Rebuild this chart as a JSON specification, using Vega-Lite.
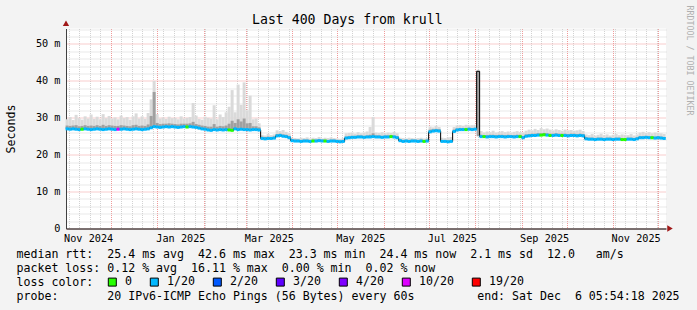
{
  "$schema": "https://vega.github.io/schema/vega-lite/v6.json",
  "width": 600,
  "height": 200,
  "autosize": {"type": "none"},
  "padding": {"left": 66, "top": 28.5, "right": 31, "bottom": 81.5},
  "background": "#f3f3f3",
  "title": {"text": "Last 400 Days from krull", "font": "DejaVu Sans Mono", "fontSize": 13.2, "fontWeight": "normal", "color": "#000000", "anchor": "middle", "frame": "group", "dx": -18.7, "baseline": "alphabetic", "offset": -32.2},
  "config": {
    "view": {"stroke": null, "fill": "#ffffff"},
    "axis": {"labelFont": "DejaVu Sans Mono", "labelColor": "#000000", "titleFont": "DejaVu Sans Mono", "titleFontWeight": "normal", "titleColor": "#000000", "ticks": false, "tickSize": 0, "domain": false, "gridOpacity": 1}
  },
  "data": {"values": [
    {"d":"2024-11-02","m":27.0,"h":29.6,"k":27.9,"l":"1/20"},
    {"d":"2024-11-04","m":26.9,"h":30.2,"k":27.8,"l":"1/20"},
    {"d":"2024-11-06","m":27.0,"h":29.4,"k":27.9,"l":"1/20"},
    {"d":"2024-11-08","m":26.9,"h":30.8,"k":28.0,"l":"1/20"},
    {"d":"2024-11-10","m":26.8,"h":29.9,"k":27.7,"l":"1/20"},
    {"d":"2024-11-12","m":26.9,"h":29.5,"k":27.8,"l":"0"},
    {"d":"2024-11-14","m":27.0,"h":30.4,"k":28.0,"l":"1/20"},
    {"d":"2024-11-16","m":26.9,"h":29.8,"k":27.8,"l":"1/20"},
    {"d":"2024-11-18","m":26.8,"h":30.9,"k":27.9,"l":"1/20"},
    {"d":"2024-11-20","m":26.9,"h":29.7,"k":27.8,"l":"1/20"},
    {"d":"2024-11-22","m":27.0,"h":30.3,"k":28.0,"l":"1/20"},
    {"d":"2024-11-24","m":26.9,"h":29.6,"k":27.8,"l":"1/20"},
    {"d":"2024-11-26","m":26.8,"h":31.0,"k":28.1,"l":"1/20"},
    {"d":"2024-11-28","m":26.9,"h":29.9,"k":27.8,"l":"1/20"},
    {"d":"2024-11-30","m":27.0,"h":30.5,"k":28.0,"l":"1/20"},
    {"d":"2024-12-02","m":26.9,"h":29.8,"k":27.9,"l":"1/20"},
    {"d":"2024-12-04","m":26.8,"h":30.1,"k":27.8,"l":"1/20"},
    {"d":"2024-12-06","m":26.9,"h":29.6,"k":27.8,"l":"10/20"},
    {"d":"2024-12-08","m":26.9,"h":30.6,"k":28.0,"l":"1/20"},
    {"d":"2024-12-10","m":27.0,"h":29.9,"k":27.9,"l":"1/20"},
    {"d":"2024-12-12","m":26.9,"h":30.2,"k":27.8,"l":"1/20"},
    {"d":"2024-12-14","m":26.8,"h":29.5,"k":27.7,"l":"1/20"},
    {"d":"2024-12-16","m":26.9,"h":30.4,"k":28.0,"l":"1/20"},
    {"d":"2024-12-18","m":27.0,"h":31.2,"k":28.1,"l":"1/20"},
    {"d":"2024-12-20","m":26.9,"h":29.8,"k":27.8,"l":"1/20"},
    {"d":"2024-12-22","m":26.8,"h":30.4,"k":27.9,"l":"1/20"},
    {"d":"2024-12-24","m":26.9,"h":29.7,"k":27.8,"l":"1/20"},
    {"d":"2024-12-26","m":27.0,"h":31.3,"k":28.2,"l":"1/20"},
    {"d":"2024-12-28","m":27.3,"h":35.0,"k":30.5,"l":"1/20"},
    {"d":"2024-12-30","m":27.6,"h":40.0,"k":37.0,"l":"1/20"},
    {"d":"2025-01-01","m":27.5,"h":31.0,"k":28.6,"l":"1/20"},
    {"d":"2025-01-03","m":27.4,"h":29.8,"k":28.3,"l":"1/20"},
    {"d":"2025-01-05","m":27.5,"h":30.1,"k":28.4,"l":"1/20"},
    {"d":"2025-01-07","m":27.6,"h":29.7,"k":28.4,"l":"1/20"},
    {"d":"2025-01-09","m":27.5,"h":30.3,"k":28.5,"l":"1/20"},
    {"d":"2025-01-11","m":27.6,"h":29.9,"k":28.4,"l":"1/20"},
    {"d":"2025-01-13","m":27.5,"h":30.0,"k":28.3,"l":"1/20"},
    {"d":"2025-01-15","m":27.4,"h":29.6,"k":28.2,"l":"1/20"},
    {"d":"2025-01-17","m":27.5,"h":30.4,"k":28.4,"l":"1/20"},
    {"d":"2025-01-19","m":27.6,"h":29.8,"k":28.4,"l":"1/20"},
    {"d":"2025-01-21","m":27.5,"h":30.0,"k":28.4,"l":"0"},
    {"d":"2025-01-23","m":27.6,"h":30.2,"k":28.5,"l":"1/20"},
    {"d":"2025-01-25","m":27.5,"h":34.0,"k":28.9,"l":"1/20"},
    {"d":"2025-01-27","m":27.4,"h":30.6,"k":28.3,"l":"1/20"},
    {"d":"2025-01-29","m":27.2,"h":29.7,"k":28.1,"l":"1/20"},
    {"d":"2025-01-31","m":27.0,"h":29.5,"k":27.9,"l":"1/20"},
    {"d":"2025-02-02","m":26.9,"h":30.3,"k":27.8,"l":"1/20"},
    {"d":"2025-02-04","m":26.7,"h":30.0,"k":27.6,"l":"1/20"},
    {"d":"2025-02-06","m":26.6,"h":29.8,"k":27.6,"l":"1/20"},
    {"d":"2025-02-08","m":26.8,"h":33.4,"k":28.3,"l":"1/20"},
    {"d":"2025-02-10","m":26.7,"h":29.6,"k":27.6,"l":"1/20"},
    {"d":"2025-02-12","m":26.8,"h":30.9,"k":27.8,"l":"1/20"},
    {"d":"2025-02-14","m":26.7,"h":30.2,"k":27.7,"l":"1/20"},
    {"d":"2025-02-16","m":26.8,"h":31.5,"k":27.9,"l":"1/20"},
    {"d":"2025-02-18","m":26.7,"h":33.0,"k":28.4,"l":"0"},
    {"d":"2025-02-20","m":26.6,"h":37.5,"k":29.2,"l":"0"},
    {"d":"2025-02-22","m":27.0,"h":31.5,"k":28.6,"l":"1/20"},
    {"d":"2025-02-24","m":26.8,"h":39.0,"k":29.6,"l":"1/20"},
    {"d":"2025-02-26","m":26.9,"h":33.5,"k":29.0,"l":"1/20"},
    {"d":"2025-02-28","m":26.8,"h":39.6,"k":29.8,"l":"1/20"},
    {"d":"2025-03-02","m":26.8,"h":32.0,"k":28.5,"l":"1/20"},
    {"d":"2025-03-04","m":26.7,"h":36.0,"k":28.6,"l":"1/20"},
    {"d":"2025-03-06","m":26.8,"h":29.6,"k":27.7,"l":"1/20"},
    {"d":"2025-03-08","m":26.8,"h":29.8,"k":27.7,"l":"1/20"},
    {"d":"2025-03-10","m":26.7,"h":28.5,"k":27.4,"l":"1/20"},
    {"d":"2025-03-12","m":24.4,"h":25.4,"k":24.9,"l":"1/20"},
    {"d":"2025-03-14","m":24.3,"h":25.2,"k":24.8,"l":"1/20"},
    {"d":"2025-03-16","m":24.4,"h":25.6,"k":24.9,"l":"1/20"},
    {"d":"2025-03-18","m":24.4,"h":25.3,"k":24.8,"l":"1/20"},
    {"d":"2025-03-20","m":24.5,"h":25.5,"k":24.9,"l":"1/20"},
    {"d":"2025-03-22","m":25.1,"h":26.6,"k":25.6,"l":"1/20"},
    {"d":"2025-03-24","m":25.2,"h":26.4,"k":25.7,"l":"1/20"},
    {"d":"2025-03-26","m":25.0,"h":26.7,"k":25.5,"l":"1/20"},
    {"d":"2025-03-28","m":24.9,"h":26.2,"k":25.4,"l":"1/20"},
    {"d":"2025-03-30","m":24.6,"h":25.8,"k":25.1,"l":"1/20"},
    {"d":"2025-04-01","m":23.8,"h":24.6,"k":24.2,"l":"1/20"},
    {"d":"2025-04-03","m":23.7,"h":24.5,"k":24.1,"l":"1/20"},
    {"d":"2025-04-05","m":23.7,"h":24.4,"k":24.1,"l":"1/20"},
    {"d":"2025-04-07","m":23.6,"h":24.6,"k":24.0,"l":"1/20"},
    {"d":"2025-04-09","m":23.7,"h":24.5,"k":24.1,"l":"1/20"},
    {"d":"2025-04-11","m":23.7,"h":24.7,"k":24.1,"l":"1/20"},
    {"d":"2025-04-13","m":23.6,"h":24.4,"k":24.0,"l":"1/20"},
    {"d":"2025-04-15","m":23.7,"h":24.6,"k":24.1,"l":"0"},
    {"d":"2025-04-17","m":23.7,"h":24.5,"k":24.1,"l":"1/20"},
    {"d":"2025-04-19","m":23.8,"h":24.8,"k":24.2,"l":"1/20"},
    {"d":"2025-04-21","m":23.7,"h":24.4,"k":24.1,"l":"1/20"},
    {"d":"2025-04-23","m":23.7,"h":24.6,"k":24.1,"l":"0"},
    {"d":"2025-04-25","m":23.6,"h":24.5,"k":24.0,"l":"1/20"},
    {"d":"2025-04-27","m":23.7,"h":24.7,"k":24.1,"l":"1/20"},
    {"d":"2025-04-29","m":23.7,"h":24.5,"k":24.1,"l":"1/20"},
    {"d":"2025-05-01","m":23.6,"h":24.4,"k":24.0,"l":"1/20"},
    {"d":"2025-05-03","m":23.5,"h":24.3,"k":23.9,"l":"1/20"},
    {"d":"2025-05-05","m":23.6,"h":24.5,"k":24.0,"l":"1/20"},
    {"d":"2025-05-07","m":24.5,"h":25.8,"k":24.9,"l":"1/20"},
    {"d":"2025-05-09","m":24.6,"h":25.9,"k":25.0,"l":"1/20"},
    {"d":"2025-05-11","m":24.7,"h":26.0,"k":25.1,"l":"1/20"},
    {"d":"2025-05-13","m":24.7,"h":25.7,"k":25.1,"l":"1/20"},
    {"d":"2025-05-15","m":24.8,"h":26.1,"k":25.2,"l":"1/20"},
    {"d":"2025-05-17","m":24.8,"h":25.8,"k":25.2,"l":"1/20"},
    {"d":"2025-05-19","m":24.7,"h":26.0,"k":25.1,"l":"1/20"},
    {"d":"2025-05-21","m":24.8,"h":26.3,"k":25.2,"l":"1/20"},
    {"d":"2025-05-23","m":24.8,"h":27.5,"k":25.4,"l":"1/20"},
    {"d":"2025-05-25","m":24.9,"h":30.2,"k":25.8,"l":"1/20"},
    {"d":"2025-05-27","m":24.8,"h":26.0,"k":25.2,"l":"1/20"},
    {"d":"2025-05-29","m":24.8,"h":25.9,"k":25.2,"l":"1/20"},
    {"d":"2025-05-31","m":24.7,"h":26.1,"k":25.1,"l":"1/20"},
    {"d":"2025-06-02","m":24.8,"h":25.8,"k":25.2,"l":"1/20"},
    {"d":"2025-06-04","m":24.8,"h":26.0,"k":25.2,"l":"1/20"},
    {"d":"2025-06-06","m":24.9,"h":25.9,"k":25.3,"l":"0"},
    {"d":"2025-06-08","m":24.8,"h":26.2,"k":25.2,"l":"1/20"},
    {"d":"2025-06-10","m":24.6,"h":25.8,"k":25.0,"l":"1/20"},
    {"d":"2025-06-12","m":23.8,"h":24.6,"k":24.2,"l":"1/20"},
    {"d":"2025-06-14","m":23.6,"h":24.5,"k":24.0,"l":"1/20"},
    {"d":"2025-06-16","m":23.7,"h":24.4,"k":24.1,"l":"1/20"},
    {"d":"2025-06-18","m":23.6,"h":24.6,"k":24.0,"l":"1/20"},
    {"d":"2025-06-20","m":23.7,"h":24.5,"k":24.1,"l":"1/20"},
    {"d":"2025-06-22","m":23.7,"h":24.4,"k":24.1,"l":"1/20"},
    {"d":"2025-06-24","m":23.6,"h":24.5,"k":24.0,"l":"1/20"},
    {"d":"2025-06-26","m":23.7,"h":24.6,"k":24.1,"l":"1/20"},
    {"d":"2025-06-28","m":23.6,"h":24.4,"k":24.0,"l":"0"},
    {"d":"2025-06-30","m":23.7,"h":24.5,"k":24.1,"l":"1/20"},
    {"d":"2025-07-02","m":26.2,"h":27.6,"k":26.8,"l":"1/20"},
    {"d":"2025-07-04","m":26.4,"h":27.4,"k":26.9,"l":"1/20"},
    {"d":"2025-07-06","m":26.5,"h":27.8,"k":27.0,"l":"1/20"},
    {"d":"2025-07-08","m":26.4,"h":27.5,"k":26.9,"l":"1/20"},
    {"d":"2025-07-10","m":23.6,"h":24.6,"k":24.0,"l":"1/20"},
    {"d":"2025-07-12","m":23.6,"h":24.5,"k":24.0,"l":"1/20"},
    {"d":"2025-07-14","m":23.5,"h":24.7,"k":23.9,"l":"1/20"},
    {"d":"2025-07-16","m":23.6,"h":24.8,"k":24.0,"l":"1/20"},
    {"d":"2025-07-18","m":26.3,"h":27.5,"k":26.8,"l":"1/20"},
    {"d":"2025-07-20","m":26.7,"h":27.9,"k":27.1,"l":"1/20"},
    {"d":"2025-07-22","m":26.8,"h":28.0,"k":27.2,"l":"1/20"},
    {"d":"2025-07-24","m":26.8,"h":27.8,"k":27.2,"l":"1/20"},
    {"d":"2025-07-26","m":26.8,"h":28.1,"k":27.2,"l":"0"},
    {"d":"2025-07-28","m":26.9,"h":27.9,"k":27.3,"l":"1/20"},
    {"d":"2025-07-30","m":26.8,"h":28.0,"k":27.2,"l":"1/20"},
    {"d":"2025-08-01","m":26.9,"h":28.1,"k":27.3,"l":"1/20"},
    {"d":"2025-08-03","m":42.6,"h":43.0,"k":25.0,"l":"1/20"},
    {"d":"2025-08-05","m":24.9,"h":26.4,"k":25.4,"l":"1/20"},
    {"d":"2025-08-07","m":24.9,"h":26.0,"k":25.3,"l":"0"},
    {"d":"2025-08-09","m":24.8,"h":26.3,"k":25.3,"l":"1/20"},
    {"d":"2025-08-11","m":24.9,"h":26.1,"k":25.4,"l":"1/20"},
    {"d":"2025-08-13","m":24.9,"h":26.5,"k":25.4,"l":"1/20"},
    {"d":"2025-08-15","m":24.8,"h":26.0,"k":25.3,"l":"1/20"},
    {"d":"2025-08-17","m":24.9,"h":26.2,"k":25.4,"l":"1/20"},
    {"d":"2025-08-19","m":24.9,"h":26.4,"k":25.4,"l":"1/20"},
    {"d":"2025-08-21","m":24.8,"h":26.1,"k":25.3,"l":"1/20"},
    {"d":"2025-08-23","m":24.9,"h":26.3,"k":25.4,"l":"1/20"},
    {"d":"2025-08-25","m":24.9,"h":26.0,"k":25.3,"l":"1/20"},
    {"d":"2025-08-27","m":24.8,"h":26.2,"k":25.3,"l":"1/20"},
    {"d":"2025-08-29","m":24.9,"h":26.4,"k":25.4,"l":"1/20"},
    {"d":"2025-08-31","m":24.9,"h":26.1,"k":25.4,"l":"0"},
    {"d":"2025-09-02","m":24.6,"h":26.0,"k":25.1,"l":"1/20"},
    {"d":"2025-09-04","m":25.0,"h":26.5,"k":25.5,"l":"1/20"},
    {"d":"2025-09-06","m":25.1,"h":26.8,"k":25.6,"l":"1/20"},
    {"d":"2025-09-08","m":25.2,"h":26.6,"k":25.7,"l":"1/20"},
    {"d":"2025-09-10","m":25.2,"h":27.0,"k":25.7,"l":"1/20"},
    {"d":"2025-09-12","m":25.3,"h":26.7,"k":25.8,"l":"1/20"},
    {"d":"2025-09-14","m":25.3,"h":27.2,"k":25.8,"l":"0"},
    {"d":"2025-09-16","m":25.4,"h":26.9,"k":25.9,"l":"0"},
    {"d":"2025-09-18","m":25.3,"h":27.1,"k":25.8,"l":"1/20"},
    {"d":"2025-09-20","m":25.2,"h":26.8,"k":25.7,"l":"0"},
    {"d":"2025-09-22","m":25.2,"h":26.6,"k":25.7,"l":"1/20"},
    {"d":"2025-09-24","m":25.3,"h":26.9,"k":25.8,"l":"1/20"},
    {"d":"2025-09-26","m":25.2,"h":26.7,"k":25.7,"l":"1/20"},
    {"d":"2025-09-28","m":25.2,"h":26.5,"k":25.7,"l":"0"},
    {"d":"2025-09-30","m":25.2,"h":26.8,"k":25.7,"l":"1/20"},
    {"d":"2025-10-02","m":25.1,"h":26.6,"k":25.6,"l":"1/20"},
    {"d":"2025-10-04","m":25.2,"h":26.7,"k":25.7,"l":"1/20"},
    {"d":"2025-10-06","m":25.2,"h":26.5,"k":25.7,"l":"1/20"},
    {"d":"2025-10-08","m":25.1,"h":26.6,"k":25.6,"l":"1/20"},
    {"d":"2025-10-10","m":25.2,"h":26.8,"k":25.7,"l":"1/20"},
    {"d":"2025-10-12","m":25.1,"h":26.4,"k":25.6,"l":"1/20"},
    {"d":"2025-10-14","m":24.3,"h":25.5,"k":24.7,"l":"1/20"},
    {"d":"2025-10-16","m":24.2,"h":25.3,"k":24.6,"l":"1/20"},
    {"d":"2025-10-18","m":24.2,"h":25.6,"k":24.6,"l":"1/20"},
    {"d":"2025-10-20","m":24.1,"h":25.2,"k":24.5,"l":"1/20"},
    {"d":"2025-10-22","m":24.2,"h":25.4,"k":24.6,"l":"1/20"},
    {"d":"2025-10-24","m":24.2,"h":25.7,"k":24.6,"l":"1/20"},
    {"d":"2025-10-26","m":24.1,"h":25.3,"k":24.5,"l":"1/20"},
    {"d":"2025-10-28","m":24.2,"h":25.5,"k":24.6,"l":"1/20"},
    {"d":"2025-10-30","m":24.2,"h":25.2,"k":24.6,"l":"1/20"},
    {"d":"2025-11-01","m":24.1,"h":25.4,"k":24.5,"l":"1/20"},
    {"d":"2025-11-03","m":24.2,"h":25.6,"k":24.6,"l":"1/20"},
    {"d":"2025-11-05","m":24.2,"h":25.3,"k":24.6,"l":"1/20"},
    {"d":"2025-11-07","m":24.1,"h":25.5,"k":24.5,"l":"0"},
    {"d":"2025-11-09","m":24.1,"h":25.4,"k":24.5,"l":"0"},
    {"d":"2025-11-11","m":24.2,"h":25.3,"k":24.6,"l":"1/20"},
    {"d":"2025-11-13","m":24.2,"h":25.6,"k":24.6,"l":"1/20"},
    {"d":"2025-11-15","m":24.1,"h":25.2,"k":24.5,"l":"1/20"},
    {"d":"2025-11-17","m":24.3,"h":25.5,"k":24.7,"l":"1/20"},
    {"d":"2025-11-19","m":24.6,"h":26.0,"k":25.0,"l":"1/20"},
    {"d":"2025-11-21","m":24.6,"h":26.2,"k":25.0,"l":"1/20"},
    {"d":"2025-11-23","m":24.7,"h":25.9,"k":25.1,"l":"1/20"},
    {"d":"2025-11-25","m":24.6,"h":26.1,"k":25.0,"l":"1/20"},
    {"d":"2025-11-27","m":24.6,"h":25.8,"k":25.0,"l":"0"},
    {"d":"2025-11-29","m":24.5,"h":26.0,"k":24.9,"l":"1/20"},
    {"d":"2025-12-01","m":24.6,"h":25.9,"k":25.0,"l":"1/20"},
    {"d":"2025-12-03","m":24.5,"h":25.8,"k":24.9,"l":"1/20"},
    {"d":"2025-12-05","m":24.4,"h":25.6,"k":24.8,"l":"1/20"}
  ]},
  "resolve": {"axis": {"x": "independent", "y": "independent"}},
  "layer": [
    {
      "mark": {"type": "rule", "strokeWidth": 3, "color": "#dadada"},
      "encoding": {
        "x": {"field": "d", "type": "temporal",
          "scale": {"domain": [{"year": 2024, "month": 11, "date": 1, "hours": 5, "minutes": 54}, {"year": 2025, "month": 12, "date": 6, "hours": 5, "minutes": 54}]},
          "axis": {"orient": "bottom", "tickCount": {"interval": "week", "step": 1}, "grid": true, "gridColor": "#d2d2d2", "gridDash": [1, 1], "labels": false, "title": null}},
        "y": {"field": "m", "type": "quantitative",
          "scale": {"domain": [0, 54.2], "nice": false, "zero": true},
          "axis": {"orient": "right", "values": [2,4,6,8,12,14,16,18,22,24,26,28,32,34,36,38,42,44,46,48,52,54], "grid": true, "gridColor": "#d2d2d2", "gridDash": [1, 1], "labels": false,
            "title": "RRDTOOL / TOBI OETIKER", "titleFontSize": 8.3, "titleColor": "#b0b0b0", "titleAngle": 90, "titleX": 22, "titleY": -23.5, "titleAlign": "left", "titleBaseline": "middle"}},
        "y2": {"field": "h"}
      }
    },
    {
      "mark": {"type": "rule", "strokeWidth": 3, "color": "#a0a0a0"},
      "encoding": {
        "x": {"field": "d", "type": "temporal",
          "axis": {"orient": "bottom", "tickCount": {"interval": "month", "step": 1}, "grid": true, "gridColor": "#f09a9a", "gridDash": [1, 1], "labels": false, "title": null}},
        "y": {"field": "m", "type": "quantitative",
          "axis": {"orient": "left", "values": [0, 10, 20, 30, 40, 50], "grid": true, "gridColor": "#f09a9a", "gridDash": [1, 1], "domain": true, "domainColor": "#404040",
            "labelFontSize": 10.2, "labelPadding": 6, "labelAlign": "right", "labelBaseline": "middle",
            "labelExpr": "datum.value == 0 ? '0\u00a0\u00a0' : datum.value + '\u00a0m'",
            "title": "Seconds", "titleFontSize": 11.6, "titleAngle": -90, "titleX": -55, "titleY": 100, "titleAlign": "center", "titleBaseline": "middle"}},
        "y2": {"field": "k"}
      }
    },
    {
      "mark": {"type": "line", "interpolate": "step", "color": "#000000", "strokeWidth": 1},
      "encoding": {
        "x": {"field": "d", "type": "temporal",
          "axis": {"orient": "bottom", "values": [
              {"year": 2024, "month": 11, "date": 16},
              {"year": 2025, "month": 1, "date": 16, "hours": 12},
              {"year": 2025, "month": 3, "date": 16, "hours": 12},
              {"year": 2025, "month": 5, "date": 16, "hours": 12},
              {"year": 2025, "month": 7, "date": 16, "hours": 12},
              {"year": 2025, "month": 9, "date": 16},
              {"year": 2025, "month": 11, "date": 16}],
            "format": "%b %Y", "grid": false, "domain": true, "domainColor": "#000000",
            "labelFontSize": 10.2, "labelPadding": 13, "labelBaseline": "alphabetic", "labelAlign": "center", "labelFlush": false, "labelOverlap": false,
            "title": [
              "median rtt:\u00a0\u00a025.4 ms avg\u00a0\u00a042.6 ms max\u00a0\u00a023.3 ms min\u00a0\u00a024.4 ms now\u00a0\u00a02.1 ms sd\u00a0\u00a012.0\u00a0\u00a0\u00a0am/s",
              "packet loss: 0.12 % avg\u00a0\u00a016.11 % max\u00a0\u00a00.00 % min\u00a0\u00a00.02 % now",
              "loss color:",
              "probe:\u00a0\u00a0\u00a0\u00a0\u00a0\u00a0\u00a020 IPv6-ICMP Echo Pings (56 Bytes) every 60s\u00a0\u00a0\u00a0\u00a0\u00a0\u00a0\u00a0\u00a0\u00a0end: Sat Dec\u00a0\u00a06 05:54:18 2025"],
            "titleFontSize": 11.6, "titleAnchor": "start", "titleAlign": "left", "titleBaseline": "alphabetic", "titleLineHeight": 14.2, "titleX": -50, "titleY": 28.8}},
        "y": {"field": "m", "type": "quantitative", "axis": null}
      }
    },
    {
      "transform": [{"filter": "datum.m < 40"}],
      "mark": {"type": "tick", "orient": "horizontal", "thickness": 3, "size": 3.2, "opacity": 1},
      "encoding": {
        "x": {"field": "d", "type": "temporal", "axis": null},
        "y": {"field": "m", "type": "quantitative", "axis": null},
        "color": {"field": "l", "type": "nominal",
          "scale": {"domain": ["0", "1/20", "2/20", "3/20", "4/20", "10/20", "19/20"], "range": ["#26ff00", "#00b8ff", "#0059ff", "#5e00ff", "#7e00ff", "#dd00ff", "#ff0000"]},
          "legend": {"orient": "none", "legendX": 40.5, "legendY": 247.7, "direction": "horizontal", "title": null, "symbolType": "square", "symbolSize": 64, "symbolStrokeColor": "#000000", "symbolStrokeWidth": 1, "symbolOpacity": 1, "labelFont": "DejaVu Sans Mono", "labelFontSize": 11.6, "labelColor": "#000000", "labelOffset": 7, "columnPadding": 15, "padding": 0}}
      }
    },
    {
      "data": {"values": [{}]},
      "mark": {"type": "point", "shape": "triangle-up", "filled": true, "size": 40, "color": "#a01818", "opacity": 1},
      "encoding": {
        "x": {"datum": {"year": 2024, "month": 11, "date": 1, "hours": 5, "minutes": 54}, "type": "temporal", "axis": null},
        "y": {"datum": 55.6, "type": "quantitative", "axis": null}
      }
    },
    {
      "data": {"values": [{}]},
      "mark": {"type": "point", "shape": "triangle-right", "filled": true, "size": 40, "color": "#a01818", "opacity": 1},
      "encoding": {
        "x": {"datum": {"year": 2025, "month": 12, "date": 8, "hours": 22}, "type": "temporal", "axis": null},
        "y": {"datum": 0, "type": "quantitative", "axis": null}
      }
    }
  ]
}
